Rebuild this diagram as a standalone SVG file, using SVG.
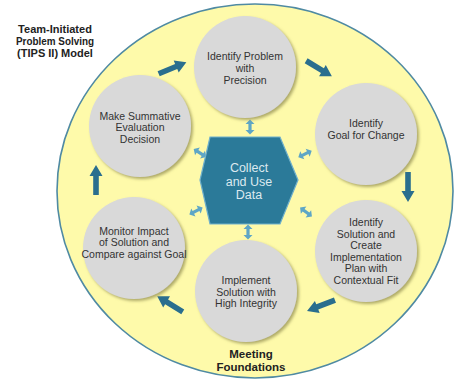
<svg xmlns="http://www.w3.org/2000/svg" width="461" height="379" viewBox="0 0 461 379">
<style>
.node{fill:#d9d9d9;filter:url(#sh)}
.nt{font-family:"Liberation Sans",Arial,sans-serif;font-size:10.5px;fill:#333;text-anchor:middle}
.bt{font-family:"Liberation Sans",Arial,sans-serif;font-weight:bold;fill:#222;text-anchor:middle}
.pa{fill:#2a6e8e}
.da{fill:#5ea6c6}
</style>
<defs>
<filter id="sh" x="-20%" y="-20%" width="150%" height="150%">
<feDropShadow dx="2" dy="2" stdDeviation="1.5" flood-color="#8c884e" flood-opacity="0.7"/>
</filter>
<path id="parr" d="M-15,-2.8 L4,-2.8 L4,-6.5 L15,0 L4,6.5 L4,2.8 L-15,2.8 Z"/>
<path id="darr" d="M-7.5,0 L-3,-4.5 L-3,-1.6 L3,-1.6 L3,-4.5 L7.5,0 L3,4.5 L3,1.6 L-3,1.6 L-3,4.5 Z"/>
</defs>
<rect width="461" height="379" fill="#fff"/>
<ellipse cx="255" cy="191" rx="198" ry="187" fill="#fefaaa" stroke="#4f8aa3" stroke-width="1.6"/>
<text class="bt" font-size="11" x="55" y="33">Team-Initiated</text>
<text class="bt" font-size="11" x="55" y="45" textLength="78" lengthAdjust="spacingAndGlyphs">Problem Solving</text>
<text class="bt" font-size="11" x="55" y="57">(TIPS II) Model</text>
<g id="connectors">
<use href="#parr" class="pa" transform="translate(172.5,68) rotate(-22.5)"/>
<use href="#parr" class="pa" transform="translate(319,68.5) rotate(31)"/>
<use href="#parr" class="pa" transform="translate(408,187) rotate(90)"/>
<use href="#parr" class="pa" transform="translate(321,305.5) rotate(158.6)"/>
<use href="#parr" class="pa" transform="translate(170,304) rotate(-148.4)"/>
<use href="#parr" class="pa" transform="translate(96,180) rotate(-90)"/>
<use href="#darr" class="da" transform="translate(250,127) rotate(90)"/>
<use href="#darr" class="da" transform="translate(248,232) rotate(90)"/>
<use href="#darr" class="da" transform="translate(305,154) rotate(-26.6)"/>
<use href="#darr" class="da" transform="translate(306,212) rotate(37.6)"/>
<use href="#darr" class="da" transform="translate(200,153) rotate(32.7)"/>
<use href="#darr" class="da" transform="translate(196,211) rotate(-28)"/>
</g>
<g id="collect">
<polygon points="210,137 280,137 298,180 280,224 210,224 200,180" fill="#2b7a99" stroke="#6fb0cc" stroke-width="1.2"/>
<text font-family="Liberation Sans,Arial,sans-serif" font-size="12.5" fill="#dce9ef" text-anchor="middle" x="249" y="172">Collect</text>
<text font-family="Liberation Sans,Arial,sans-serif" font-size="12.5" fill="#dce9ef" text-anchor="middle" x="249" y="186">and Use</text>
<text font-family="Liberation Sans,Arial,sans-serif" font-size="12.5" fill="#dce9ef" text-anchor="middle" x="249" y="199">Data</text>
</g>
<g id="identify-problem">
<circle class="node" cx="245" cy="67" r="51"/>
<text class="nt" x="245" y="60">Identify Problem</text>
<text class="nt" x="245" y="72">with</text>
<text class="nt" x="245" y="84">Precision</text>
</g>
<g id="identify-goal">
<circle class="node" cx="366" cy="134" r="51"/>
<text class="nt" x="366" y="127">Identify</text>
<text class="nt" x="366" y="139">Goal for Change</text>
</g>
<g id="identify-solution">
<circle class="node" cx="366" cy="251" r="51"/>
<text class="nt" x="366" y="226">Identify</text>
<text class="nt" x="366" y="237.5">Solution and</text>
<text class="nt" x="366" y="249">Create</text>
<text class="nt" x="366" y="260.5">Implementation</text>
<text class="nt" x="366" y="272">Plan with</text>
<text class="nt" x="366" y="283.5">Contextual Fit</text>
</g>
<g id="implement">
<circle class="node" cx="246" cy="291" r="51"/>
<text class="nt" x="246" y="284">Implement</text>
<text class="nt" x="246" y="296">Solution with</text>
<text class="nt" x="246" y="307">High Integrity</text>
</g>
<g id="monitor">
<circle class="node" cx="134" cy="248" r="51"/>
<text class="nt" x="134" y="235">Monitor Impact</text>
<text class="nt" x="134" y="246">of Solution and</text>
<text class="nt" x="134" y="258">Compare against Goal</text>
</g>
<g id="summative">
<circle class="node" cx="140" cy="126" r="51"/>
<text class="nt" x="140" y="120">Make Summative</text>
<text class="nt" x="140" y="131">Evaluation</text>
<text class="nt" x="140" y="143">Decision</text>
</g>
<text class="bt" font-size="11.5" x="251" y="358">Meeting</text>
<text class="bt" font-size="11.5" x="251" y="371">Foundations</text>
</svg>
